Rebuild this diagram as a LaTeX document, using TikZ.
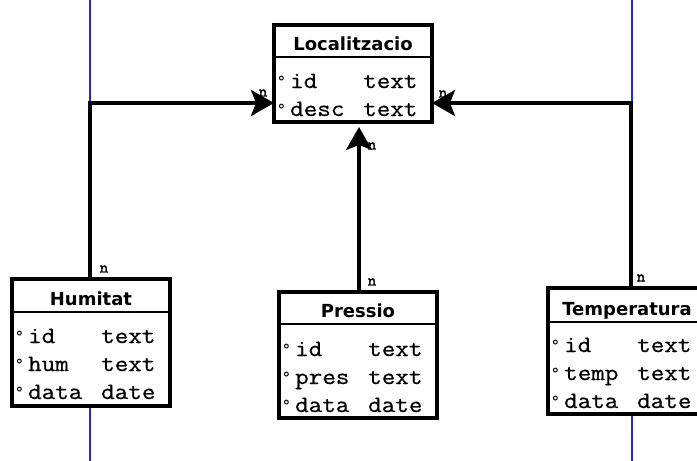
\documentclass[tikz,border=0pt]{standalone}
\usepackage{fontspec}
\usetikzlibrary{arrows.meta}
\newfontfamily\hdrfont{DejaVu Sans}
\newfontfamily\colfont{Latin Modern Mono}[FakeStretch=1.12, FakeBold=0.6]
\newfontfamily\degfont{Latin Modern Mono}
\newfontfamily\cardfont{Latin Modern Mono}[FakeBold=2.5]
\definecolor{guide}{RGB}{40,40,195}

\tikzset{
  entbox/.style={draw=black, line width=3.5pt, fill=white, minimum width=158pt,
    inner sep=0pt, outer sep=0pt},
  hdrline/.style={draw=black, line width=2.5pt},
  title/.style={font=\hdrfont\bfseries\fontsize{18}{20}\selectfont, inner sep=0pt, anchor=base},
  field/.style={font=\colfont\fontsize{23.5}{25}\selectfont, inner sep=0pt, anchor=base west},
  deg/.style={font=\degfont\fontsize{17}{18}\selectfont, inner sep=0pt, anchor=base west},
  card/.style={font=\cardfont\fontsize{16}{16}\selectfont, inner sep=0pt},
  conn/.style={draw=black, line width=3.5pt, -{Stealth[length=23pt,width=26pt,inset=5pt]}},
  guideline/.style={draw=guide, line width=1.5pt},
}

% entity box: name, left x, top y, bottom y, header rule y, title
\newcommand\erentity[6]{%
  \node[entbox, minimum height={#4-#3}] (#1) at ({#2+79},{(#3+#4)/2}) {};
  \draw[hdrline] (#1.west |- 0,#5) -- (#1.east |- 0,#5);
  \node[title] (#1-title) at ({#2+79},{#5-7}) {#6};
}
% attribute row: name, left x, baseline y, field, type
\newcommand\erattr[5]{%
  \node[deg] (#1-d) at ({#2+3},{#3-2}) {°};
  \node[field] (#1-f) at ({#2+16},#3) {#4};
  \node[field] (#1-t) at ({#2+89},#3) {#5};
}

\begin{document}
\begin{tikzpicture}[x=1pt, y=-1pt]
\useasboundingbox (0,0) rectangle (697,461);
\clip (0,0) rectangle (697,461);
\fill[white] (0,0) rectangle (697,461);

% page guides
\coordinate (gl-top) at (90,0);
\coordinate (gl-bot) at (90,461);
\coordinate (gr-top) at (632,0);
\coordinate (gr-bot) at (632,461);
\draw[guideline] (gl-top) -- (gl-bot);
\draw[guideline] (gr-top) -- (gr-bot);

% entities
\erentity{loc}{274}{25}{122}{57}{Localitzacio}
\erattr{loc-a}{274}{88}{id}{text}
\erattr{loc-b}{274}{116}{desc}{text}

\erentity{hum}{12}{279}{406}{312}{Humitat}
\erattr{hum-a}{12}{343}{id}{text}
\erattr{hum-b}{12}{371}{hum}{text}
\erattr{hum-c}{12}{399}{data}{date}

\erentity{pre}{279}{292}{418}{324}{Pressio}
\erattr{pre-a}{279}{356}{id}{text}
\erattr{pre-b}{279}{384}{pres}{text}
\erattr{pre-c}{279}{412}{data}{date}

\erentity{tem}{548}{288}{414}{322}{Temperatura}
\erattr{tem-a}{548}{352}{id}{text}
\erattr{tem-b}{548}{380}{temp}{text}
\erattr{tem-c}{548}{408}{data}{date}

% relationships
\coordinate (lbend) at (90,103);
\coordinate (rbend) at (631,103);
\draw[conn] (hum.north -| lbend) -- (lbend) -- (loc.west |- lbend);
\draw[conn, shorten >=5pt] ([xshift=1pt]pre.north) -- ([xshift=1pt]pre.north |- loc.south);
\draw[conn] (tem.north -| rbend) -- (rbend) -- (loc.east |- rbend);

% cardinalities
\node[card] (n-locl) at (263,93) {n};
\node[card] (n-locr) at (443,94) {n};
\node[card] (n-locb) at (372,146) {n};
\node[card] (n-hum) at (104,269) {n};
\node[card] (n-pre) at (372,282) {n};
\node[card] (n-tem) at (641,278) {n};
\end{tikzpicture}
\end{document}
